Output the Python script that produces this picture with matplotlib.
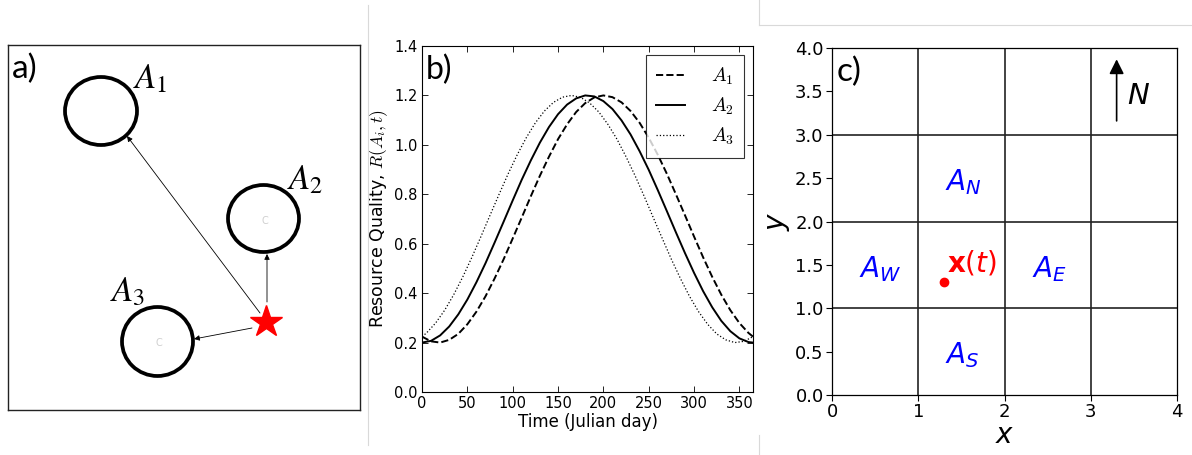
import matplotlib
matplotlib.use("Agg")
import matplotlib.pyplot as plt
from matplotlib.patches import Ellipse
from matplotlib.lines import Line2D

# ---------------- data ----------------
# panel a (schematic, pixel-like coordinates of the drawing box)
patch_names = ["$A_1$", "$A_2$", "$A_3$"]
patch_x = [101, 263.5, 157.5]
patch_y = [111, 218.5, 341.5]
patch_w = [72, 71, 71]
patch_h = [68, 67, 69]
label_x = [150, 305, 128]
label_y = [78, 179, 291]
star_xy = (265.7, 321.7)
arrow_start = [(260, 313), (267, 302), (252, 328)]
arrow_end = [(127, 136), (267, 254), (194, 339)]

# panel b
days = [0, 10, 20, 30, 40, 50, 60, 70, 80, 90, 100, 110, 120, 130, 140, 150,
        160, 170, 180, 190, 200, 210, 220, 230, 240, 250, 260, 270, 280, 290,
        300, 310, 320, 330, 340, 350, 360, 365]
R_A1 = [0.224, 0.205, 0.200, 0.211, 0.235, 0.274, 0.325, 0.387, 0.459, 0.537,
        0.621, 0.706, 0.792, 0.875, 0.952, 1.023, 1.083, 1.133, 1.169, 1.192,
        1.200, 1.193, 1.172, 1.137, 1.089, 1.029, 0.960, 0.883, 0.800, 0.715,
        0.629, 0.545, 0.466, 0.394, 0.331, 0.279, 0.239, 0.224]
R_A2 = [0.200, 0.207, 0.229, 0.265, 0.314, 0.374, 0.444, 0.521, 0.604, 0.689,
        0.775, 0.859, 0.937, 1.009, 1.072, 1.124, 1.163, 1.188, 1.200, 1.196,
        1.177, 1.145, 1.099, 1.042, 0.974, 0.899, 0.817, 0.732, 0.646, 0.562,
        0.482, 0.408, 0.343, 0.288, 0.246, 0.217, 0.202, 0.200]
days_A3 = [0, 5, 15, 25, 35, 45, 55, 65, 75, 85, 95, 105, 115, 125, 135, 145,
           155, 165, 175, 185, 195, 205, 215, 225, 235, 245, 255, 265, 275,
           285, 295, 305, 315, 325, 335, 345, 355, 365]
R_A3 = [0.224, 0.239, 0.279, 0.331, 0.394, 0.466, 0.545, 0.629, 0.715, 0.800,
        0.883, 0.960, 1.029, 1.089, 1.137, 1.172, 1.193, 1.200, 1.192, 1.169,
        1.133, 1.083, 1.023, 0.952, 0.875, 0.792, 0.706, 0.621, 0.537, 0.459,
        0.387, 0.325, 0.274, 0.235, 0.211, 0.200, 0.205, 0.224]
b_xticks = [0, 50, 100, 150, 200, 250, 300, 350]
b_yticks = [0.0, 0.2, 0.4, 0.6, 0.8, 1.0, 1.2, 1.4]

# panel c
c_xticks = [0, 1, 2, 3, 4]
c_yticks = [0.0, 0.5, 1.0, 1.5, 2.0, 2.5, 3.0, 3.5, 4.0]
grid_lines = [1, 2, 3]
nb_labels = ["$A_N$", "$A_W$", "$A_E$", "$A_S$"]
nb_x = [1.52, 0.56, 2.52, 1.51]
nb_y = [2.36, 1.36, 1.36, 0.37]
pos_x, pos_y = 1.30, 1.30
pos_label_xy = (1.33, 1.42)
north_from = (3.30, 3.16)
north_to = (3.30, 3.87)
north_label_xy = (3.55, 3.45)

W, H = 1192, 455
fig = plt.figure(figsize=(W / 100, H / 100), dpi=100)
fig.patch.set_facecolor("white")


def frac(left, top, right, bottom):
    return [left / W, (H - bottom) / H, (right - left) / W, (bottom - top) / H]


# light separator lines
sep = "#d9d9d9"
fig.add_artist(Line2D([368 / W, 368 / W], [1 - 5 / H, 1 - 445 / H], color=sep, lw=0.8))
fig.add_artist(Line2D([759 / W, 759 / W], [1.0, 1 - 25 / H], color=sep, lw=0.8))
fig.add_artist(Line2D([759 / W, 1.0], [1 - 25 / H, 1 - 25 / H], color=sep, lw=0.8))
fig.add_artist(Line2D([759 / W, 759 / W], [1 - 435 / H, 0.0], color=sep, lw=0.8))

# ---------------- panel a ----------------
axa = fig.add_axes(frac(8, 45, 360, 410))
axa.set_xlim(8, 360)
axa.set_ylim(410, 45)
axa.set_xticks([])
axa.set_yticks([])
for s in axa.spines.values():
    s.set_linewidth(1.0)
    s.set_color("#222222")
for i in range(3):
    axa.add_patch(Ellipse((patch_x[i], patch_y[i]), patch_w[i], patch_h[i],
                          fill=False, lw=2.7, ec="black"))
    axa.text(label_x[i], label_y[i], patch_names[i], fontsize=25,
             ha="center", va="center", math_fontfamily="stix")
for i in (1, 2):
    axa.text(patch_x[i] + 1, patch_y[i] + 2, "C", fontsize=7, color="#cfcfcf",
             ha="center", va="center")
for s0, e0 in zip(arrow_start, arrow_end):
    axa.annotate("", xy=e0, xytext=s0,
                 arrowprops=dict(arrowstyle="-|>", lw=0.6, color="black",
                                 mutation_scale=8, shrinkA=0, shrinkB=0))
axa.plot([star_xy[0]], [star_xy[1]], marker="*", ms=24, color="red", mec="red")
axa.text(12, 69, "a)", fontsize=24, family="Lato", ha="left", va="center")

# ---------------- panel b ----------------
axb = fig.add_axes(frac(422, 46, 753, 392))
axb.plot(days, R_A1, "k--", lw=1.4, label="$A_1$")
axb.plot(days, R_A2, "k-", lw=1.4, label="$A_2$")
axb.plot(days_A3, R_A3, "k:", lw=0.9, label="$A_3$")
axb.set_xlim(0, 365)
axb.set_ylim(0, 1.4)
axb.set_xticks(b_xticks)
axb.set_yticks(b_yticks)
axb.set_yticklabels([f"{v:.1f}" for v in b_yticks])
axb.tick_params(direction="in", top=True, right=True, length=4, width=0.6,
                labelsize=10.5, pad=3)
for s in axb.spines.values():
    s.set_linewidth(0.8)
axb.set_xlabel("Time (Julian day)", fontsize=12, labelpad=1)
axb.set_ylabel("Resource Quality, $R(A_i,t)$", fontsize=12.5,
               math_fontfamily="cm", labelpad=3)
leg = axb.legend(loc="upper right", fontsize=14, frameon=True, fancybox=False,
                 edgecolor="black", handlelength=1.5, handletextpad=1.3,
                 labelspacing=0.45, borderpad=0.55, borderaxespad=0.45)
leg.get_frame().set_linewidth(0.8)
for t in leg.get_texts():
    t.set_math_fontfamily("cm")
axb.text(0.01, 0.975, "b)", transform=axb.transAxes, fontsize=23, family="Lato",
         ha="left", va="top")

# ---------------- panel c ----------------
axc = fig.add_axes(frac(832, 48, 1177, 395))
axc.set_xlim(0, 4)
axc.set_ylim(0, 4)
for g in grid_lines:
    axc.axvline(g, color="#222222", lw=1.2)
    axc.axhline(g, color="#222222", lw=1.2)
axc.set_xticks(c_xticks)
axc.set_yticks(c_yticks)
axc.set_yticklabels([f"{v:.1f}" for v in c_yticks])
axc.tick_params(labelsize=13, length=4, width=0.8, pad=2)
for s in axc.spines.values():
    s.set_linewidth(0.9)
axc.set_xlabel("$x$", fontsize=20, labelpad=0)
axc.set_ylabel("$y$", fontsize=20, labelpad=2)
for lab, x0, y0 in zip(nb_labels, nb_x, nb_y):
    axc.text(x0, y0, lab, color="blue", fontsize=20, ha="center", va="baseline")
axc.plot([pos_x], [pos_y], "o", color="red", ms=6)
axc.text(pos_label_xy[0], pos_label_xy[1], r"$\mathbf{x}(t)$", color="red",
         fontsize=20, ha="left", va="baseline")
axc.annotate("", xy=north_to, xytext=north_from,
             arrowprops=dict(arrowstyle="-|>", lw=1.2, color="black",
                             mutation_scale=22, shrinkA=0, shrinkB=0))
axc.text(north_label_xy[0], north_label_xy[1], "$N$", fontsize=21,
         ha="center", va="center")
axc.text(0.05, 3.72, "c)", fontsize=24, family="Lato", ha="left", va="center")

fig.savefig("out.png", dpi=100, facecolor="white")
